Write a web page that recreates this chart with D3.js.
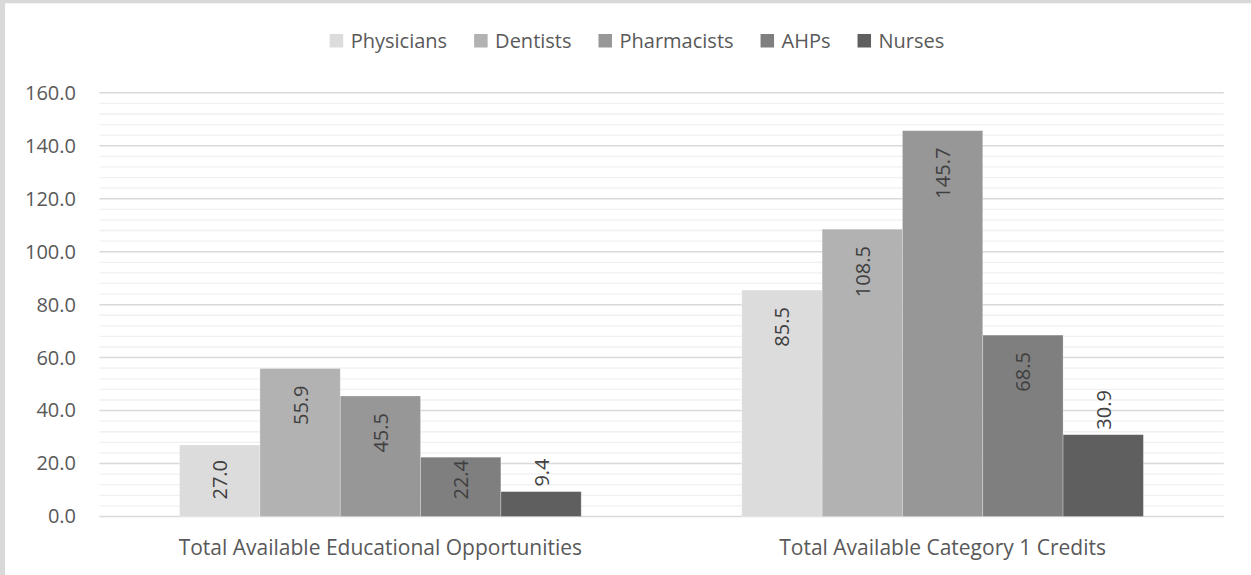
<!DOCTYPE html>
<html>
<head>
<meta charset="utf-8">
<script src="https://cdn.jsdelivr.net/npm/d3@7"></script>
<style>
  body { margin: 0; background: #fff; }
  svg text { font-family: "Open Sans", sans-serif; }
</style>
</head>
<body>
<svg id="chart"></svg>
<script>
let categories = ['Total Available Educational Opportunities', 'Total Available Category 1 Credits']
let series = ['Physicians', 'Dentists', 'Pharmacists', 'AHPs', 'Nurses']
let physicians = [27.0, 85.5]
let dentists = [55.9, 108.5]
let pharmacists = [45.5, 145.7]
let ahps = [22.4, 68.5]
let nurses = [9.4, 30.9]
let yTicks = [0, 20, 40, 60, 80, 100, 120, 140, 160]

let colors = ['#dcdcdc', '#b2b2b2', '#979797', '#7f7f7f', '#5f5f5f']
let valuesBySeries = [physicians, dentists, pharmacists, ahps, nurses]

let w = 1251
let h = 575
let svg = d3.select('#chart').attr('width', w).attr('height', h)

// frame edges visible in the reference
svg.append('rect').attr('x', 0).attr('y', 0).attr('width', w).attr('height', 3.3).attr('fill', '#d9d9d9')
svg.append('rect').attr('x', 0).attr('y', 0).attr('width', 5).attr('height', h).attr('fill', '#d9d9d9')

let x0 = d3.scaleBand().domain(categories).range([99.3, 1223.7])
let x1 = d3.scaleBand().domain(series).range([0, x0.bandwidth()]).paddingOuter(1.0).paddingInner(0)
let y = d3.scaleLinear().domain([0, 160]).range([516.5, 92.8])

// minor grid
svg.append('g').selectAll('line')
  .data(d3.range(0, 161, 4).filter(v => v % 20 !== 0))
  .enter().append('line')
  .attr('x1', 99.3).attr('x2', 1223.7)
  .attr('y1', d => y(d)).attr('y2', d => y(d))
  .attr('stroke', '#f0f0f0').attr('stroke-width', 1.3)

// major grid
svg.append('g').selectAll('line')
  .data(yTicks)
  .enter().append('line')
  .attr('x1', 99.3).attr('x2', 1223.7)
  .attr('y1', d => y(d)).attr('y2', d => y(d))
  .attr('stroke', '#d9d9d9').attr('stroke-width', 1.5)

// y axis labels
let yAxis = svg.append('g')
  .attr('transform', 'translate(76,0)')
  .call(d3.axisLeft(y).tickValues(yTicks).tickSize(0).tickPadding(0).tickFormat(d3.format('.1f')))
yAxis.select('.domain').remove()
yAxis.selectAll('text')
  .style('font-family', '"Open Sans", sans-serif')
  .style('font-size', '20px')
  .attr('fill', '#595959')

// bars
let groups = svg.selectAll('g.cat')
  .data(categories)
  .enter().append('g')
  .attr('class', 'cat')
  .attr('transform', d => 'translate(' + x0(d) + ',0)')

let barData = (c, ci) => series.map((s, si) => ({ s: s, si: si, v: valuesBySeries[si][ci] }))

groups.selectAll('rect')
  .data((c, ci) => barData(c, ci))
  .enter().append('rect')
  .attr('x', d => x1(d.s))
  .attr('width', x1.bandwidth())
  .attr('y', d => y(d.v))
  .attr('height', d => y(0) - y(d.v))
  .attr('fill', d => colors[d.si])
  .attr('stroke', '#ffffff')
  .attr('stroke-opacity', 0.35)
  .attr('stroke-width', 0.75)

// value labels (rotated)
let labels = groups.selectAll('text.val')
  .data((c, ci) => barData(c, ci))
  .enter().append('text')
  .attr('class', 'val')
  .text(d => d3.format('.1f')(d.v))
  .style('font-size', '20px')
  .attr('fill', '#404040')
  .attr('dominant-baseline', 'central')

labels.each(function(d) {
  let t = d3.select(this)
  let len = this.getComputedTextLength()
  let cx = x1(d.s) + x1.bandwidth() / 2
  let top = y(d.v)
  let base = y(0)
  let ypos, anchor
  if (d.s === 'Nurses') {
    // outside end
    ypos = top - 5
    anchor = 'start'
  } else if (top + 17 + len > base - 17) {
    ypos = base - 17
    anchor = 'start'
  } else {
    ypos = top + 17
    anchor = 'end'
  }
  t.attr('text-anchor', anchor)
   .attr('transform', 'translate(' + cx + ',' + ypos + ') rotate(-90)')
})

// category labels
svg.append('g').selectAll('text')
  .data(categories)
  .enter().append('text')
  .attr('x', d => x0(d) + x0.bandwidth() / 2)
  .attr('y', 555)
  .attr('text-anchor', 'middle')
  .style('font-size', '21px')
  .attr('fill', '#595959')
  .text(d => d)

// legend
let legend = svg.append('g')
let lx = 0
series.forEach((s, i) => {
  let g = legend.append('g')
  g.append('rect').attr('x', lx).attr('y', 34).attr('width', 13.5).attr('height', 13.5).attr('fill', colors[i])
  let t = g.append('text').attr('x', lx + 21).attr('y', 48.3).style('font-size', '20px').attr('fill', '#595959').text(s)
  lx += 21 + t.node().getComputedTextLength() + 27
})
let total = lx - 27
legend.attr('transform', 'translate(' + (637 - total / 2) + ',0)')
</script>
</body>
</html>
